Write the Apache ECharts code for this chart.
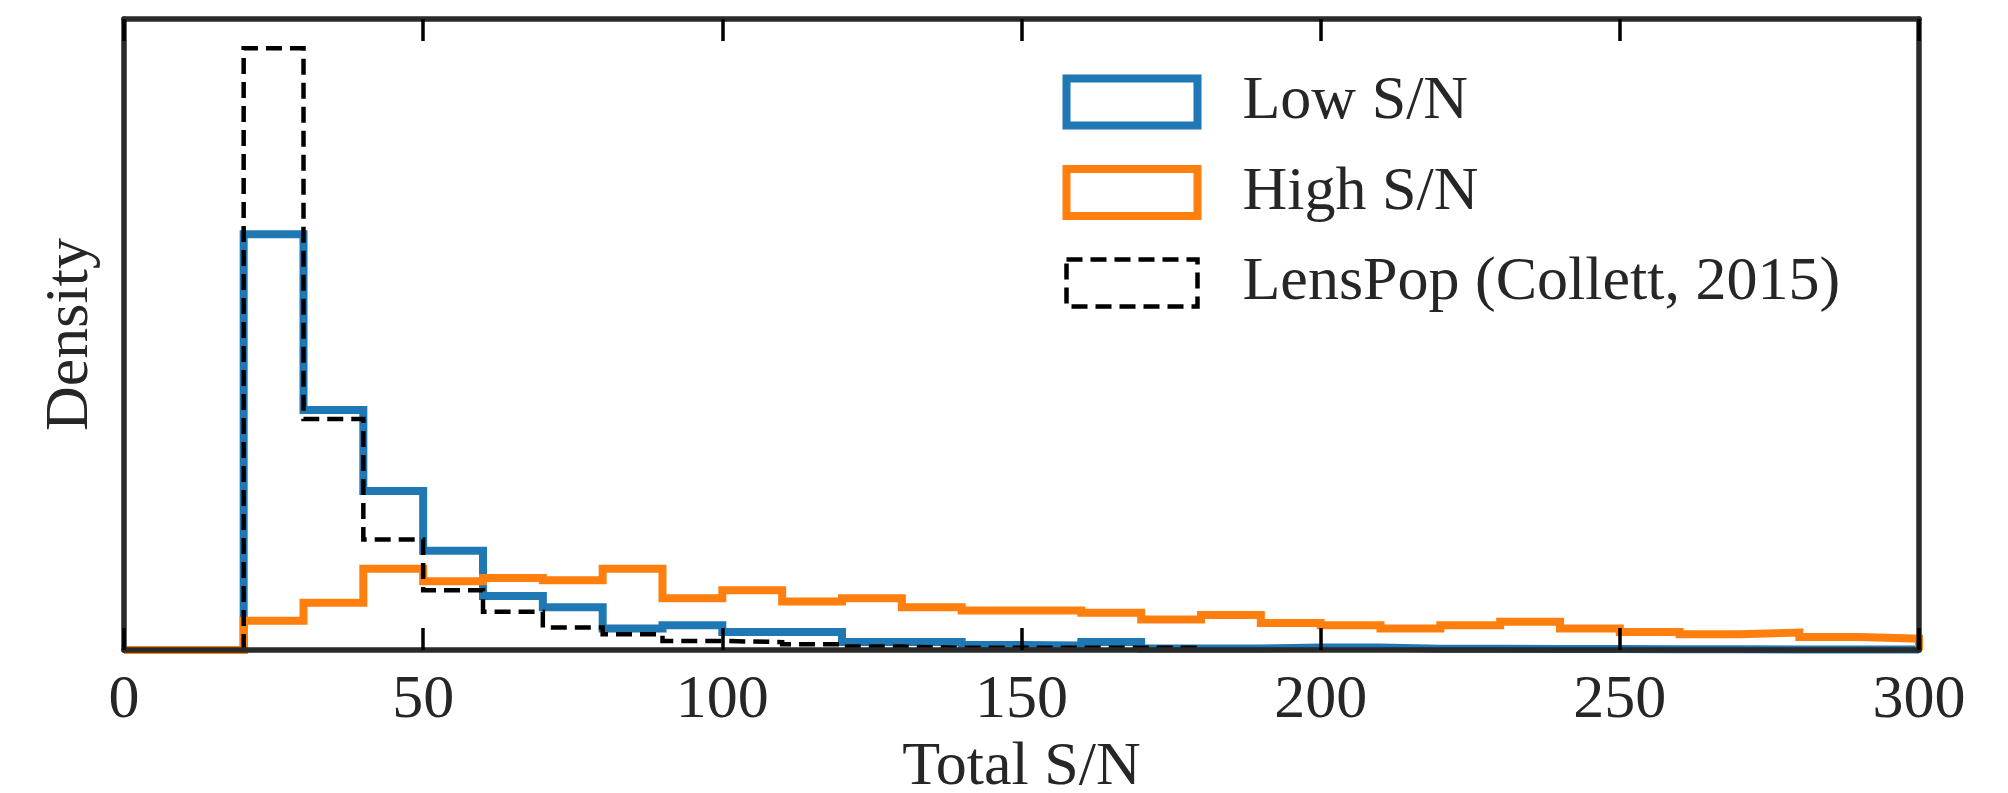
<!DOCTYPE html>
<html>
<head>
<meta charset="utf-8">
<title>Total S/N distribution</title>
<script src="https://cdn.jsdelivr.net/npm/echarts@6/dist/echarts.min.js"></script>
<style>
  html, body { margin: 0; padding: 0; background: #ffffff; }
  #chart { width: 2008px; height: 793px; }
</style>
</head>
<body>
<div id="chart"></div>
<script>
// Histogram bins: width 10 in Total S/N
const binWidth = 10;

// Low S/N sample, bins starting at 0 (density)
const lowSNStart = 0;
const lowSN = [
  0, 0, 0.0369, 0.0213, 0.0141, 0.0088, 0.0048, 0.0038, 0.0019, 0.0022,
  0.0016, 0.0016, 0.0007, 0.0007, 0.00045, 0.0004, 0.0007, 0.00013, 0.00013, 0.00022,
  0.00022, 0.0001, 0.0001, 0.00008, 0.00008, 0.00006, 0.00006, 0.00005, 0.00005, 0.00005
];

// High S/N sample, bins starting at 0 (density)
const highSNStart = 0;
const highSN = [
  0, 0, 0.0026, 0.0042, 0.0072, 0.0061, 0.0064, 0.0062, 0.0072, 0.0046,
  0.0053, 0.0043, 0.0046, 0.0038, 0.0035, 0.0035, 0.0033, 0.0027, 0.0031, 0.0024,
  0.0022, 0.0019, 0.0022, 0.0025, 0.0019, 0.0016, 0.0014, 0.00155, 0.00115, 0.001
];

// LensPop simulated population, bins starting at 20 (density)
const lensPopStart = 20;
const lensPop = [
  0.0534, 0.0205, 0.0098, 0.0053, 0.0034, 0.0020, 0.0014, 0.0008, 0.0007, 0.0005,
  0.0003, 0.0002, 0.0002, 0.0002, 0.0002, 0.0002
];

const seriesNames = ['Low S/N', 'High S/N', 'LensPop (Collett, 2015)'];
const seriesColors = ['#1f77b4', '#ff7f0e', '#000000'];

const xMin = 0, xMax = 300, xInterval = 50;
const yMin = 0, yMax = 0.056;

const serifFont = "'Liberation Serif', 'DejaVu Serif', 'Times New Roman', serif";
const textColor = '#262626';
const frameColor = '#2a2a2a';

// Step outline of a histogram: rises at the first edge, falls back at the last
function stepOutline(start, values) {
  const pts = [[start, 0]];
  values.forEach(function (v, i) { pts.push([start + i * binWidth, v]); });
  const end = start + values.length * binWidth;
  pts.push([end, values[values.length - 1]]);
  pts.push([end, 0]);
  return pts;
}

function histSeries(name, color, start, values, width, dash) {
  return {
    name: name,
    type: 'line',
    step: 'end',
    symbol: 'none',
    xAxisIndex: 0,
    yAxisIndex: 0,
    data: stepOutline(start, values),
    lineStyle: { color: color, width: width, type: dash || 'solid', join: 'miter', cap: 'butt' },
    itemStyle: { color: color },
    animation: false,
    emphasis: { disabled: true }
  };
}

const chart = echarts.init(document.getElementById('chart'), null, { renderer: 'canvas' });

const frameAxisX = {
  type: 'value', min: xMin, max: xMax, interval: xInterval, z: 5,
  axisLine: { show: true, onZero: false, lineStyle: { color: frameColor, width: 5.5 } },
  axisTick: { show: true, inside: true, length: 22, lineStyle: { color: '#000', width: 3.5 } },
  splitLine: { show: false }
};
const frameAxisY = {
  type: 'value', min: yMin, max: yMax, z: 5,
  axisLine: { show: true, onZero: false, lineStyle: { color: frameColor, width: 5.5 } },
  axisTick: { show: false },
  axisLabel: { show: false },
  splitLine: { show: false }
};

chart.setOption({
  backgroundColor: '#ffffff',
  animation: false,
  grid: { left: 124, right: 89, top: 19, bottom: 143, containLabel: false, outerBoundsMode: 'none' },
  xAxis: [
    Object.assign({}, frameAxisX, {
      position: 'bottom',
      name: 'Total S/N',
      nameLocation: 'middle',
      nameGap: 84,
      nameTextStyle: { fontFamily: serifFont, fontSize: 62, color: textColor },
      axisLabel: { show: true, margin: 20, fontFamily: serifFont, fontSize: 62, color: textColor }
    }),
    Object.assign({}, frameAxisX, {
      position: 'top',
      axisLabel: { show: false }
    })
  ],
  yAxis: [
    Object.assign({}, frameAxisY, {
      position: 'left',
      name: 'Density',
      nameLocation: 'middle',
      nameGap: 22,
      nameTextStyle: { fontFamily: serifFont, fontSize: 62, color: textColor }
    }),
    Object.assign({}, frameAxisY, { position: 'right' })
  ],
  legend: {
    orient: 'vertical',
    left: 1062.5,
    top: 71,
    padding: 0,
    itemWidth: 131,
    itemHeight: 47,
    itemGap: 28.5,
    selectedMode: false,
    icon: 'rect',
    textStyle: {
      fontFamily: serifFont, fontSize: 62, color: textColor,
      lineHeight: 47, padding: [0, 0, 0, 40]
    },
    data: [
      { name: seriesNames[0], icon: 'rect',
        itemStyle: { color: '#ffffff', borderColor: seriesColors[0], borderWidth: 8, borderType: 'solid' } },
      { name: seriesNames[1], icon: 'rect',
        itemStyle: { color: '#ffffff', borderColor: seriesColors[1], borderWidth: 8, borderType: 'solid' } },
      { name: seriesNames[2], icon: 'rect',
        itemStyle: { color: '#ffffff', borderColor: seriesColors[2], borderWidth: 4.5, borderType: [16, 8] } }
    ]
  },
  series: [
    histSeries(seriesNames[0], seriesColors[0], lowSNStart, lowSN, 8),
    histSeries(seriesNames[1], seriesColors[1], highSNStart, highSN, 8),
    histSeries(seriesNames[2], seriesColors[2], lensPopStart, lensPop, 4.5, [16, 8])
  ]
});
</script>
</body>
</html>
